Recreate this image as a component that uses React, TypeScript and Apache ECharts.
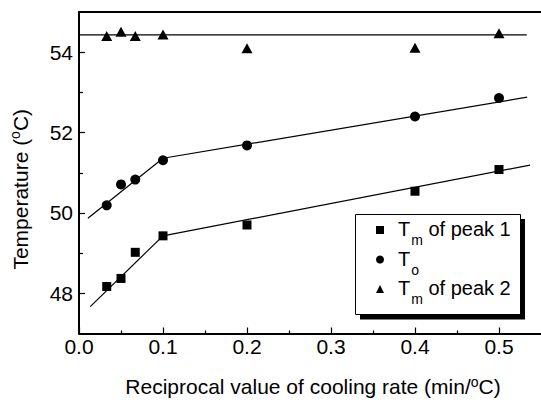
import React, { useEffect, useRef } from "react";
import * as echarts from "echarts";

// Reciprocal cooling rate (min/°C) at which each sample was measured
const xRates = [0.033, 0.05, 0.067, 0.1, 0.2, 0.4, 0.5];

// Melting temperature of peak 1, onset temperature, melting temperature of peak 2 (°C)
const peak1Temps = [48.17, 48.37, 49.02, 49.43, 49.7, 50.54, 51.08];
const onsetTemps = [50.19, 50.71, 50.83, 51.31, 51.68, 52.4, 52.86];
const peak2Temps = [54.4, 54.51, 54.4, 54.44, 54.1, 54.11, 54.47];

// Straight-line fits drawn through each data set
const peak1FitLow = [[0.0134, 47.67], [0.1, 49.43]];
const peak1FitHigh = [[0.1, 49.43], [0.537, 51.19]];
const onsetFitLow = [[0.0106, 49.87], [0.1, 51.36]];
const onsetFitHigh = [[0.1, 51.36], [0.5335, 52.88]];
const peak2Fit = [[0, 54.43], [0.533, 54.43]];

// Axis ticks
const xMajorTicks = [0, 0.1, 0.2, 0.3, 0.4, 0.5];
const xMinorTicks = [0.05, 0.15, 0.25, 0.35, 0.45];
const yMajorTicks = [48, 50, 52, 54];
const yMinorTicks = [49, 51, 53];

const legendNames = ["peak1", "onset", "peak2"];
const legendLabels: Record<string, string> = {
  peak1: "{T|T}{s|m}{t| of peak 1}",
  onset: "{T|T}{s|o}",
  peak2: "{T|T}{s|m}{t| of peak 2}",
};

const FONT = "Liberation Sans, Arial, sans-serif";
const BLACK = "#000";

const pairs = (xs: number[], ys: number[]) => xs.map((x, i) => [x, ys[i]]);

export default function App() {
  const ref = useRef<HTMLDivElement>(null);

  useEffect(() => {
    if (!ref.current) return;
    const chart = echarts.init(ref.current, null, { renderer: "svg" });

    const fitLine = (data: number[][]) => ({
      type: "line",
      data,
      symbol: "none",
      silent: true,
      z: 2,
      lineStyle: { color: BLACK, width: 1.2 },
    });

    const supRich = {
      m: { fontSize: 21, fontFamily: FONT, color: BLACK, lineHeight: 24 },
      sup: {
        fontSize: 14,
        fontFamily: FONT,
        color: BLACK,
        lineHeight: 14,
        verticalAlign: "top",
      },
    };

    chart.setOption({
      animation: false,
      backgroundColor: "#fff",
      grid: { left: 77, top: 12, right: -2, bottom: 67.3, containLabel: false },
      xAxis: [
        {
          type: "value",
          position: "bottom",
          min: 0,
          max: 0.55,
          interval: 0.1,
          axisLine: { onZero: false, lineStyle: { color: BLACK, width: 2 } },
          axisTick: {
            inside: true,
            length: 6,
            customValues: xMajorTicks,
            lineStyle: { color: BLACK, width: 1.2 },
          },
          axisLabel: {
            customValues: xMajorTicks,
            formatter: (v: number) => v.toFixed(1),
            margin: 2,
            fontSize: 21,
            fontFamily: FONT,
            color: BLACK,
          },
          splitLine: { show: false },
          name: "{m|Reciprocal value of cooling rate (min/}{sup|o}{m|C)}",
          nameLocation: "middle",
          nameGap: 41,
          nameTextStyle: { rich: supRich, padding: [0, 0, 0, 6] },
        },
        {
          type: "value",
          position: "bottom",
          min: 0,
          max: 0.55,
          interval: 0.1,
          axisLine: { show: false, onZero: false },
          axisTick: {
            inside: true,
            length: 3,
            customValues: xMinorTicks,
            lineStyle: { color: BLACK, width: 1.2 },
          },
          axisLabel: { show: false },
          splitLine: { show: false },
        },
        {
          type: "value",
          position: "top",
          min: 0,
          max: 0.55,
          interval: 0.1,
          axisLine: { onZero: false, lineStyle: { color: BLACK, width: 2 } },
          axisTick: { show: false },
          axisLabel: { show: false },
          splitLine: { show: false },
        },
      ],
      yAxis: [
        {
          type: "value",
          position: "left",
          min: 47,
          max: 55,
          interval: 1,
          axisLine: { show: true, onZero: false, lineStyle: { color: BLACK, width: 2 } },
          axisTick: {
            inside: true,
            length: 6,
            customValues: yMajorTicks,
            lineStyle: { color: BLACK, width: 1.2 },
          },
          axisLabel: {
            customValues: yMajorTicks,
            margin: 6,
            fontSize: 21,
            fontFamily: FONT,
            color: BLACK,
          },
          splitLine: { show: false },
          name: "{m|Temperature (}{sup|o}{m|C)}",
          nameLocation: "middle",
          nameGap: 47,
          nameTextStyle: { rich: supRich, padding: [0, 33, 0, 0] },
        },
        {
          type: "value",
          position: "left",
          min: 47,
          max: 55,
          interval: 1,
          axisLine: { show: false, onZero: false },
          axisTick: {
            inside: true,
            length: 4,
            customValues: yMinorTicks,
            lineStyle: { color: BLACK, width: 1.2 },
          },
          axisLabel: { show: false },
          splitLine: { show: false },
        },
      ],
      legend: {
        data: legendNames,
        orient: "vertical",
        left: 376,
        top: 219,
        padding: 0,
        itemGap: 1.5,
        itemWidth: 8,
        itemHeight: 8,
        z: 10,
        formatter: (name: string) => legendLabels[name],
        textStyle: {
          color: BLACK,
          rich: {
            T: {
              fontSize: 20,
              fontFamily: FONT,
              color: BLACK,
              lineHeight: 22,
              verticalAlign: "top",
              padding: [0, 0, 0, 9],
            },
            t: {
              fontSize: 20,
              fontFamily: FONT,
              color: BLACK,
              lineHeight: 22,
              verticalAlign: "top",
            },
            s: {
              fontSize: 14,
              fontFamily: FONT,
              color: BLACK,
              lineHeight: 14,
              verticalAlign: "top",
              padding: [14, 0, 0, 1],
            },
          },
        },
      },
      graphic: [
        {
          type: "rect",
          z: 1,
          shape: { x: 360, y: 219, width: 165, height: 100.5 },
          style: { fill: BLACK },
        },
        {
          type: "rect",
          z: 1,
          shape: { x: 355.5, y: 214.5, width: 165, height: 100 },
          style: { fill: "#fff", stroke: BLACK, lineWidth: 1 },
        },
      ],
      series: [
        fitLine(peak1FitLow),
        fitLine(peak1FitHigh),
        fitLine(onsetFitLow),
        fitLine(onsetFitHigh),
        fitLine(peak2Fit),
        {
          name: "peak1",
          type: "scatter",
          data: pairs(xRates, peak1Temps),
          symbol: "rect",
          symbolSize: 9,
          itemStyle: { color: BLACK, opacity: 1 },
          z: 3,
        },
        {
          name: "onset",
          type: "scatter",
          data: pairs(xRates, onsetTemps),
          symbol: "circle",
          symbolSize: 10,
          itemStyle: { color: BLACK, opacity: 1 },
          z: 3,
        },
        {
          name: "peak2",
          type: "scatter",
          data: pairs(xRates, peak2Temps),
          symbol: "triangle",
          symbolSize: [11, 10],
          itemStyle: { color: BLACK, opacity: 1 },
          z: 3,
        },
      ],
    });

    return () => chart.dispose();
  }, []);

  return (
    <div
      ref={ref}
      style={{
        position: "fixed",
        left: 0,
        top: 0,
        width: 541,
        height: 402,
        background: "#fff",
      }}
    />
  );
}
